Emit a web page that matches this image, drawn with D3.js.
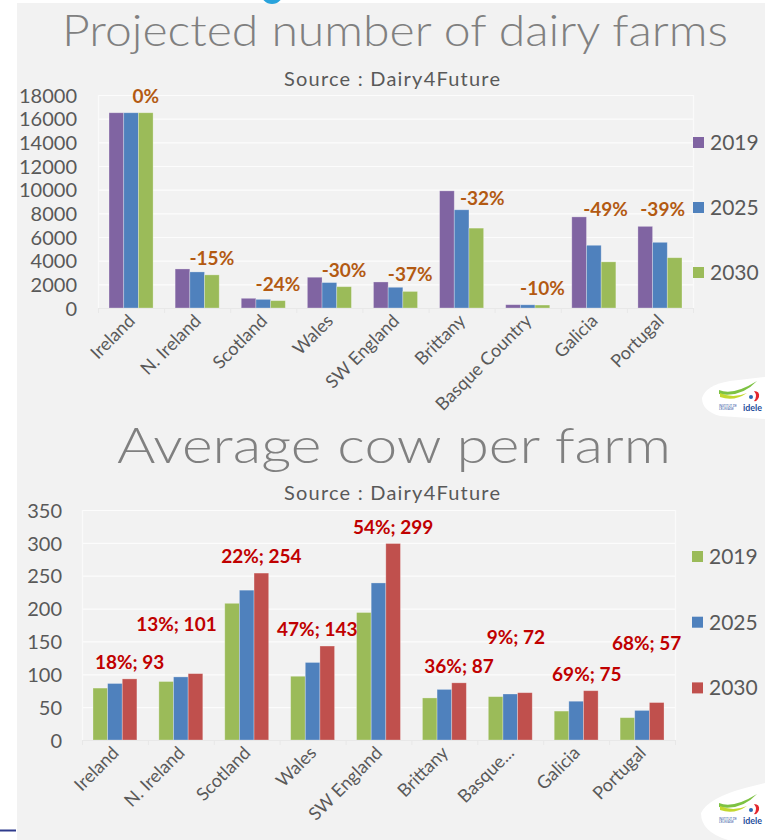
<!DOCTYPE html>
<html>
<head>
<meta charset="utf-8">
<script src="https://cdn.jsdelivr.net/npm/d3@7"></script>
<style>
  html, body { margin: 0; padding: 0; background: #ffffff; }
  svg { display: block; }
  text { font-family: "Century Gothic", Lato, "Noto Sans", sans-serif; }
</style>
</head>
<body>
<svg id="chart" width="765" height="840"></svg>
<script>
// ---------- DATA ----------
const farmCategories = ["Ireland", "N. Ireland", "Scotland", "Wales", "SW England", "Brittany", "Basque Country", "Galicia", "Portugal"];
const farmYears = ["2019", "2025", "2030"];
const farms2019 = [16500, 3300, 820, 2600, 2200, 9900, 280, 7700, 6900];
const farms2025 = [16500, 3050, 730, 2150, 1750, 8300, 270, 5300, 5550];
const farms2030 = [16500, 2800, 620, 1800, 1400, 6750, 250, 3900, 4250];
const farmChangeLabels = ["0%", "-15%", "-24%", "-30%", "-37%", "-32%", "-10%", "-49%", "-39%"];
const farmTicks = [0, 2000, 4000, 6000, 8000, 10000, 12000, 14000, 16000, 18000];

const cowCategories = ["Ireland", "N. Ireland", "Scotland", "Wales", "SW England", "Brittany", "Basque...", "Galicia", "Portugal"];
const cowYears = ["2019", "2025", "2030"];
const cows2019 = [79, 89, 208, 97, 194, 64, 66, 44, 34];
const cows2025 = [86, 96, 228, 118, 239, 77, 70, 59, 45];
const cows2030 = [93, 101, 254, 143, 299, 87, 72, 75, 57];
const cowChangeLabels = ["18%; 93", "13%; 101", "22%; 254", "47%; 143", "54%; 299", "36%; 87", "9%; 72", "69%; 75", "68%; 57"];
const cowTicks = [0, 50, 100, 150, 200, 250, 300, 350];

// ---------- RENDER ----------
const svg = d3.select("#chart");
const GREY_TXT = "#595959";
const FONT = "Lato, sans-serif";

// background panel
svg.append("rect").attr("x", 17).attr("y", 3).attr("width", 748).attr("height", 837).attr("fill", "#f2f2f2");
// small blue mark at top
svg.append("circle").attr("cx", 272).attr("cy", -7).attr("r", 11).attr("fill", "#29a3dc");
// dark blue rule bottom-left
svg.append("line").attr("x1", 0).attr("x2", 16).attr("y1", 830.5).attr("y2", 830.5)
  .attr("stroke", "#2f3b8c").attr("stroke-width", 2);

function fitText(sel, targetWidth, mode) {
  sel.attr("textLength", targetWidth).attr("lengthAdjust", mode || "spacingAndGlyphs");
}

// simplified "idele" logo; (x, y) = start of the green swoosh
function drawLogo(x, y, shapePath) {
  svg.append("path").attr("d", shapePath).attr("fill", "#ffffff");
  const g = svg.append("g").attr("transform", `translate(${x},${y})`);
  g.append("path")
    .attr("d", "M0,0 Q14,6 38,-9 Q22,8 0,4 Z")
    .attr("fill", "#7dc242");
  g.append("path")
    .attr("d", "M1,3 Q14,9 28,3 Q15,12 1,7 Z")
    .attr("fill", "#c3d82e");
  g.append("path")
    .attr("d", "M35,1 Q41,1 40,7 Q38,12 35,11 Q39,6 35,1 Z")
    .attr("fill", "#e3262d");
  g.append("circle").attr("cx", 32).attr("cy", 7).attr("r", 2).attr("fill", "#2a6ab3");
  const idele = g.append("text").attr("x", 24).attr("y", 21).attr("font-size", 10).attr("font-weight", 700)
    .attr("fill", "#1f4e9c").style("font-family", FONT).text("idele");
  fitText(idele, 19);
  g.append("text").attr("x", 0).attr("y", 16.5).attr("font-size", 3).attr("fill", "#1f4e9c")
    .style("font-family", FONT).text("INSTITUT DE");
  g.append("text").attr("x", 0).attr("y", 20).attr("font-size", 3).attr("fill", "#1f4e9c")
    .style("font-family", FONT).text("L'ÉLEVAGE");
}

function drawChart(cfg) {
  const { categories, years, series, colors, ticks, left, right, top, bottom, maxV,
          labels, labelColor, nudges, title, titleX, titleW, titleY, titleSize,
          sourceY, tickLabelX, legendX, legendY, legendGap } = cfg;

  const x0 = d3.scaleBand().domain(categories).range([left, right]).paddingInner(1/3).paddingOuter(1/6);
  const x1 = d3.scaleBand().domain(years).range([0, x0.bandwidth()]).padding(0);
  const y = d3.scaleLinear().domain([0, maxV]).range([bottom, top]);

  // title
  const t = svg.append("text").attr("x", titleX).attr("y", titleY)
    .attr("font-size", titleSize).attr("font-weight", 300).attr("fill", "#808080")
    .style("font-family", FONT).text(title);
  fitText(t, titleW);

  const s = svg.append("text").attr("x", 284).attr("y", sourceY)
    .attr("font-size", 20).attr("fill", GREY_TXT).style("font-family", FONT)
    .text("Source : Dairy4Future");
  fitText(s, 216, "spacing");

  // gridlines
  const grid = svg.append("g");
  grid.selectAll("line").data(ticks.filter(d => d > 0)).join("line")
    .attr("x1", left).attr("x2", right)
    .attr("y1", d => y(d) + 0.5).attr("y2", d => y(d) + 0.5)
    .attr("stroke", "#fcfcfc").attr("stroke-width", 1.2);
  grid.append("line").attr("x1", left + 0.5).attr("x2", left + 0.5).attr("y1", top).attr("y2", bottom)
    .attr("stroke", "#fafafa").attr("stroke-width", 1.2);
  grid.append("line").attr("x1", right + 0.5).attr("x2", right + 0.5).attr("y1", top).attr("y2", bottom)
    .attr("stroke", "#fafafa").attr("stroke-width", 1.2);

  // y axis labels
  const yAxis = d3.axisLeft(y).tickValues(ticks).tickSize(0).tickPadding(0).tickFormat(d3.format("d"));
  const ya = svg.append("g").attr("transform", `translate(${tickLabelX},0)`).call(yAxis);
  ya.select(".domain").remove();
  ya.selectAll("text").attr("font-size", 20).attr("fill", GREY_TXT)
    .style("font-family", FONT).attr("dy", "0.36em");

  // bars
  const rows = categories.map((c, i) => ({ c, i, vals: years.map((yr, k) => ({ yr, k, v: series[k][i] })) }));
  const groups = svg.append("g").selectAll("g").data(rows).join("g")
    .attr("transform", d => `translate(${x0(d.c)},0)`);
  groups.selectAll("rect").data(d => d.vals).join("rect")
    .attr("x", d => x1(d.yr))
    .attr("y", d => y(d.v))
    .attr("width", x1.bandwidth())
    .attr("height", d => bottom - y(d.v))
    .attr("fill", d => colors[d.k])
    .attr("stroke", "#ffffff").attr("stroke-opacity", 0.35).attr("stroke-width", 0.8);

  // x axis line + ticks
  const xa = svg.append("g");
  xa.append("line").attr("x1", left).attr("x2", right).attr("y1", bottom + 0.5).attr("y2", bottom + 0.5)
    .attr("stroke", "#e8e8e8").attr("stroke-width", 1);
  const edges = categories.map(c => x0(c) - x0.step() * (1/6)).concat([right]);
  xa.selectAll("line.tk").data(edges).join("line").attr("class", "tk")
    .attr("x1", d => d + 0.5).attr("x2", d => d + 0.5).attr("y1", bottom).attr("y2", bottom + 5)
    .attr("stroke", "#e8e8e8");

  // x labels
  svg.append("g").selectAll("text").data(categories).join("text")
    .attr("transform", c => `translate(${x0(c) + x0.bandwidth() / 2 + 5},${bottom + 14}) rotate(-45)`)
    .attr("text-anchor", "end")
    .attr("font-size", 18).attr("fill", GREY_TXT)
    .style("font-family", FONT)
    .text(c => c);

  // change labels above the last series
  const last = years[years.length - 1];
  svg.append("g").selectAll("text").data(rows).join("text")
    .attr("x", d => x0(d.c) + x1(last) + x1.bandwidth() / 2 + (nudges[d.i] ? nudges[d.i][0] : 0))
    .attr("y", d => y(series[years.length - 1][d.i]) - 10 + (nudges[d.i] ? nudges[d.i][1] : 0))
    .attr("text-anchor", "middle")
    .attr("font-size", 19).attr("font-weight", 700).attr("fill", labelColor)
    .style("font-family", FONT)
    .text(d => labels[d.i]);

  // legend
  const lg = svg.append("g").selectAll("g").data(years).join("g")
    .attr("transform", (d, i) => `translate(${legendX},${legendY + i * legendGap})`);
  lg.append("rect").attr("x", 0).attr("y", -5.5).attr("width", 11).attr("height", 11)
    .attr("fill", (d, i) => colors[i]);
  lg.append("text").attr("x", 17).attr("y", 0).attr("dy", "0.36em")
    .attr("font-size", 21).attr("fill", GREY_TXT).style("font-family", FONT)
    .text(d => d);
}

drawChart({
  categories: farmCategories, years: farmYears,
  series: [farms2019, farms2025, farms2030],
  colors: ["#8064a2", "#4f81bd", "#9bbb59"],
  ticks: farmTicks, maxV: 18000,
  left: 98, right: 693, top: 95, bottom: 308,
  labels: farmChangeLabels, labelColor: "#b35a12",
  nudges: { 5: [6, -13], 7: [-3, -36], 8: [-12, -32] },
  title: "Projected number of dairy farms", titleX: 62, titleW: 666, titleY: 46, titleSize: 43,
  sourceY: 86, tickLabelX: 77,
  legendX: 693, legendY: 142.5, legendGap: 65
});

drawChart({
  categories: cowCategories, years: cowYears,
  series: [cows2019, cows2025, cows2030],
  colors: ["#9bbb59", "#4f81bd", "#c0504d"],
  ticks: cowTicks, maxV: 350,
  left: 82, right: 675, top: 510, bottom: 740,
  labels: cowChangeLabels, labelColor: "#c00000",
  nudges: { 1: [-19, -33], 3: [-10, 0], 6: [-9, -39], 7: [-4, 0], 8: [-10, -43] },
  title: "Average cow per farm", titleX: 117, titleW: 554, titleY: 463, titleSize: 50,
  sourceY: 500, tickLabelX: 62,
  legendX: 692, legendY: 556.5, legendGap: 65.7
});

drawLogo(719, 390, "M765,377 L730,381 Q706,385 702,398 Q702,411 720,416 L765,419 Z");
drawLogo(719, 803, "M765,783 L745,788 Q708,798 701,813 Q701,832 728,840 L765,840 Z");
</script>
</body>
</html>
